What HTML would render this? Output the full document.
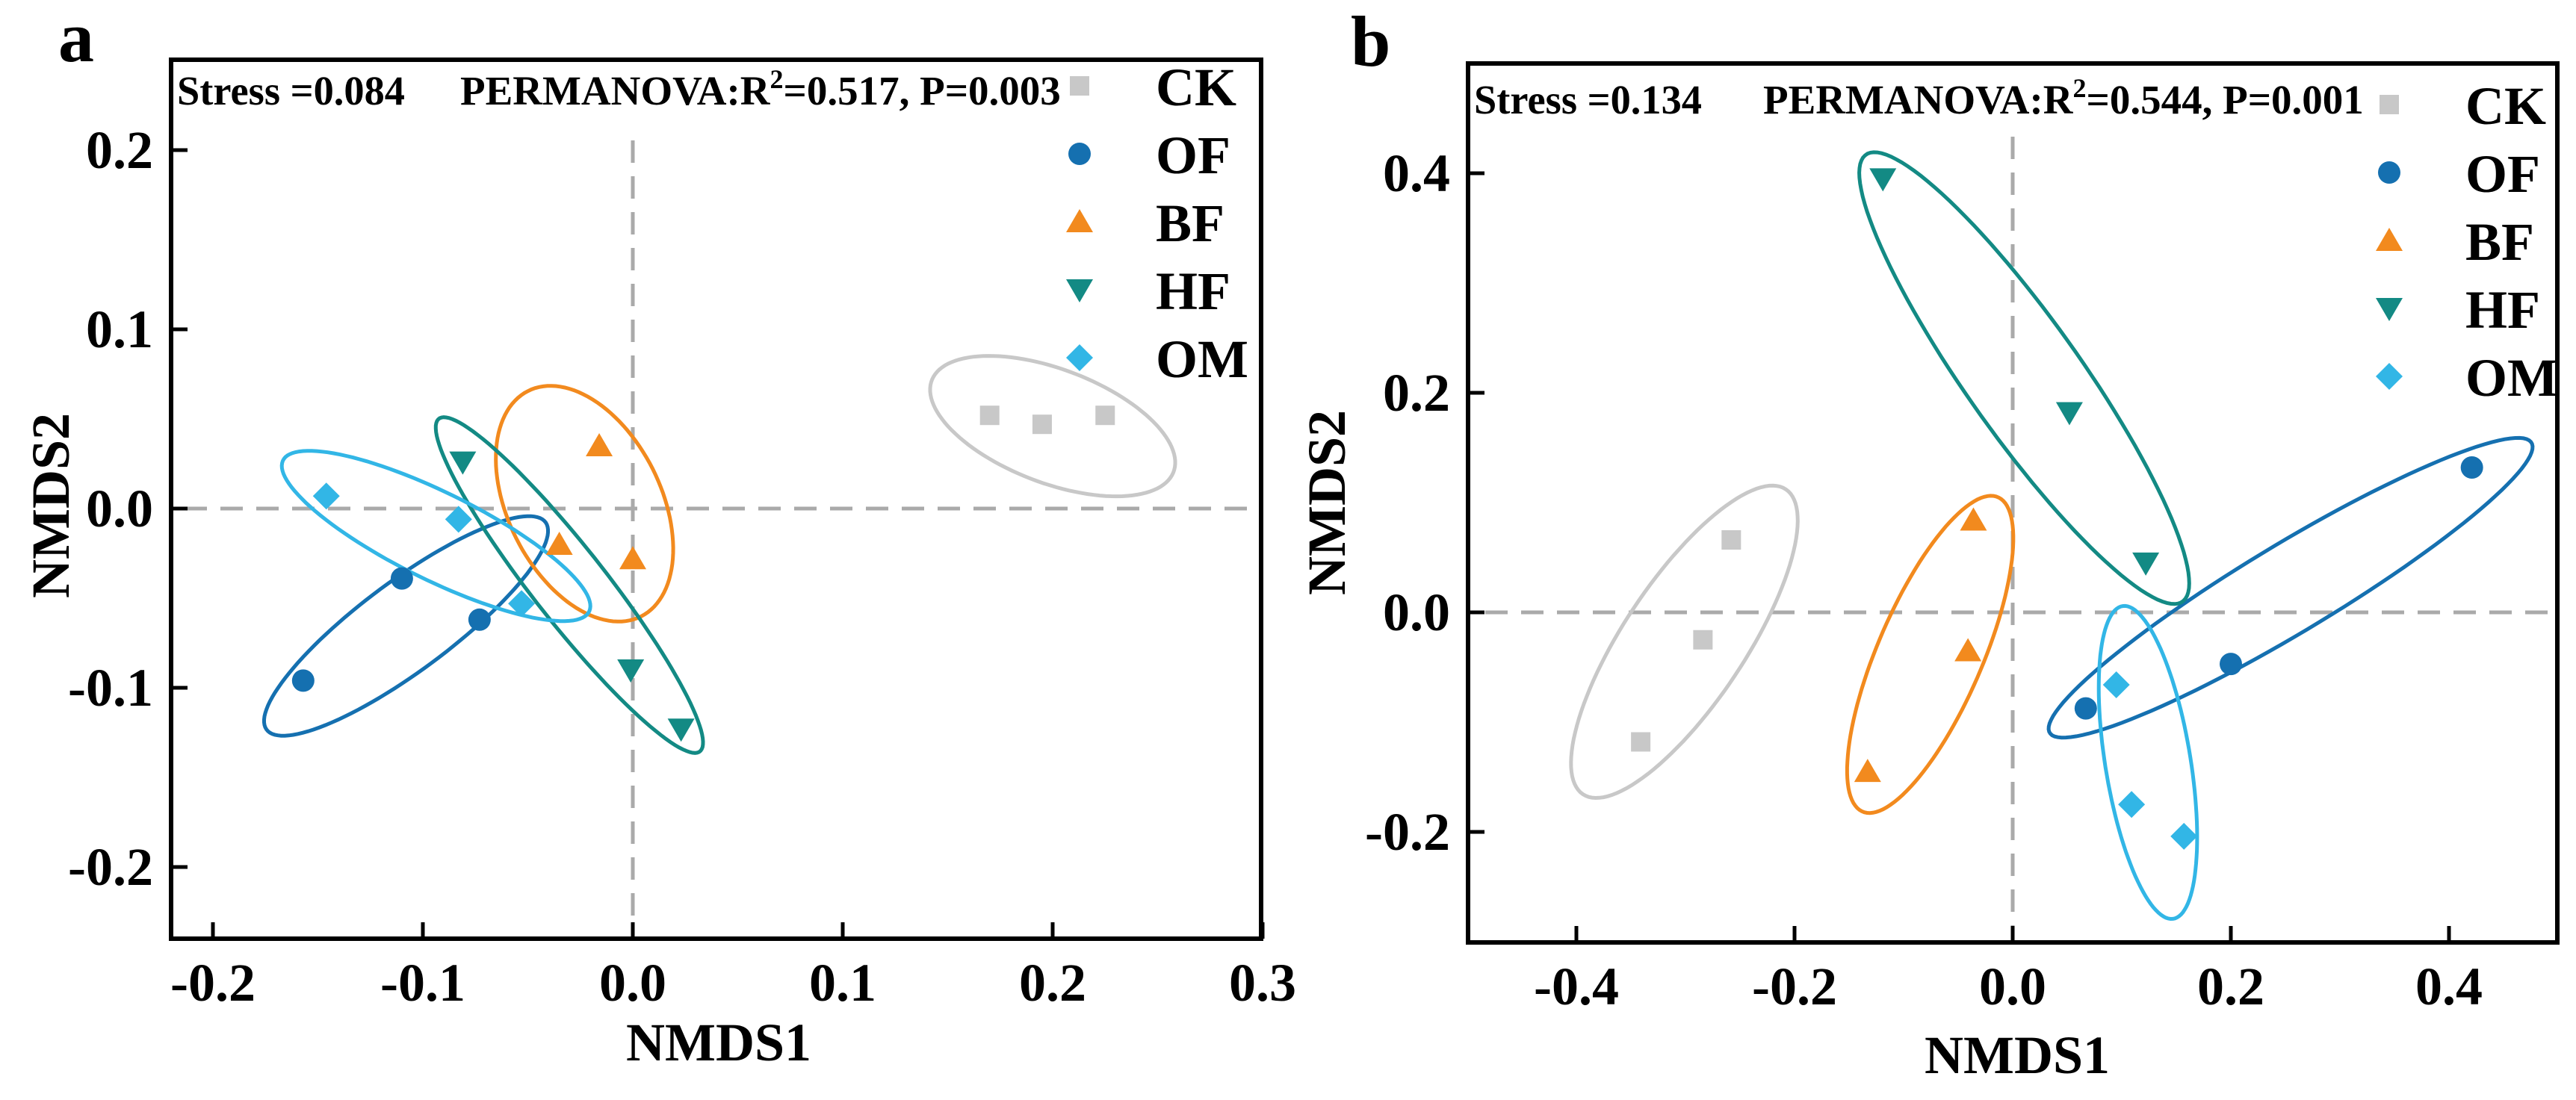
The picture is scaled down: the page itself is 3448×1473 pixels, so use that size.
<!DOCTYPE html>
<html><head><meta charset="utf-8"><style>
html,body{margin:0;padding:0;background:#fff;}
svg{display:block;font-family:"Liberation Serif",serif;font-weight:bold;}
</style></head><body>
<svg id="chart" width="3448" height="1473" viewBox="0 0 3448 1473" xmlns="http://www.w3.org/2000/svg"></svg>
<script>
// ---- data ----
const groups = ["CK","OF","BF","HF","OM"];
const colors = ["#c8c8c8","#1570b0","#f28a1e","#138a84","#32b6e6"];
const shapes = ["square","circle","triangle","tri-down","diamond"];
// Panel a points (NMDS1, NMDS2)
const aX = [[0.170,0.195,0.225],[-0.157,-0.110,-0.073],[-0.016,-0.035,0.000],[-0.081,-0.001,0.023],[-0.146,-0.083,-0.053]];
const aY = [[0.052,0.047,0.052],[-0.096,-0.039,-0.062],[0.035,-0.020,-0.028],[0.026,-0.090,-0.123],[0.007,-0.006,-0.053]];
// Panel a ellipses: center, conjugate half-axis vectors (data units)
const aEllC = [[0.200,0.046],[-0.108,-0.0655],[-0.023,0.0027],[-0.0302,-0.0427],[-0.0937,-0.0153]];
const aEllA = [[0.0568,-0.0275],[0.0658,0.0587],[0.0235,-0.0645],[0.0618,-0.0931],[0.0725,-0.0430]];
const aEllB = [[0.0135,0.0279],[-0.0157,0.0175],[0.0351,0.0128],[0.0153,0.0102],[0.0120,0.0202]];
// Panel b points
const bX = [[-0.258,-0.284,-0.341],[0.067,0.200,0.421],[-0.036,-0.041,-0.133],[-0.119,0.052,0.122],[0.095,0.109,0.157]];
const bY = [[0.066,-0.025,-0.118],[-0.0875,-0.047,0.132],[0.084,-0.035,-0.145],[0.395,0.182,0.045],[-0.066,-0.175,-0.204]];
const bEllC = [[-0.301,-0.0268],[0.2548,0.0224],[-0.0756,-0.0383],[0.0106,0.2134],[0.124,-0.1367]];
const bEllA = [[0.0905,0.1403],[0.2203,0.1329],[0.0605,0.1438],[0.1437,-0.2044],[0.0228,-0.1425]];
const bEllB = [[0.0511,-0.0236],[0.0264,-0.0312],[0.0463,-0.0139],[0.0472,0.0236],[0.0389,0.0045]];
const aXTicks = [-0.2,-0.1,0.0,0.1,0.2,0.3];
const aYTicks = [0.2,0.1,0.0,-0.1,-0.2];
const bXTicks = [-0.4,-0.2,0.0,0.2,0.4];
const bYTicks = [0.4,0.2,0.0,-0.2];
const aStats = ["Stress =0.084","0.517","0.003"];
const bStats = ["Stress =0.134","0.544","0.001"];

const NS="http://www.w3.org/2000/svg";
const svg=document.getElementById('chart');
function mk(tag,attrs,parent){const e=document.createElementNS(NS,tag);for(const k in attrs)e.setAttribute(k,attrs[k]);(parent||svg).appendChild(e);return e;}

function marker(g,shape,cx,cy,color){
  let e;
  if(shape==="square") e=mk('rect',{x:cx-13,y:cy-13,width:26,height:26,fill:color},g);
  else if(shape==="circle") e=mk('circle',{cx:cx,cy:cy,r:15,fill:color},g);
  else if(shape==="triangle") e=mk('polygon',{points:`${cx},${cy-17} ${cx-18},${cy+14} ${cx+18},${cy+14}`,fill:color},g);
  else if(shape==="tri-down") e=mk('polygon',{points:`${cx},${cy+17} ${cx-18},${cy-14} ${cx+18},${cy-14}`,fill:color},g);
  else e=mk('polygon',{points:`${cx},${cy-18} ${cx+18},${cy} ${cx},${cy+18} ${cx-18},${cy}`,fill:color},g);
  return e;
}

function panel(cfg){
  const g=mk('g',{});
  
  
  const sx=v=>cfg.x0+v*cfg.kx, sy=v=>cfg.y0-v*cfg.ky;
  // zero lines
  const zv=mk('line',{x1:sx(0),x2:sx(0),y1:cfg.zTop,y2:cfg.bottom-8,stroke:'#aaa','stroke-width':5,'stroke-dasharray':'30 18'},g);
  
  
  const zh=mk('line',{x1:cfg.zLeft,x2:cfg.right,y1:sy(0),y2:sy(0),stroke:'#aaa','stroke-width':5,'stroke-dasharray':'30 18'},g);
  
  
  // ellipses
  for(let i=0;i<groups.length;i++){
    const c=cfg.C[i],A=cfg.A[i],B=cfg.B[i];let pts=[];
    for(let k=0;k<=120;k++){const t=k/120*2*Math.PI;
      pts.push(sx(c[0]+Math.cos(t)*A[0]+Math.sin(t)*B[0]).toFixed(1)+','+sy(c[1]+Math.cos(t)*A[1]+Math.sin(t)*B[1]).toFixed(1));}
    const e=mk('polygon',{points:pts.join(' '),fill:'none',stroke:colors[i],'stroke-width':5},g);
    
    
  }
  // points
  for(let i=0;i<groups.length;i++){
    for(let j=0;j<cfg.X[i].length;j++){
      const m=marker(g,shapes[i],sx(cfg.X[i][j]),sy(cfg.Y[i][j]),colors[i]);
      
      
    }
  }
  // axes box
  const box=mk('rect',{x:cfg.left,y:cfg.top,width:cfg.right-cfg.left,height:cfg.bottom-cfg.top,fill:'none',stroke:'#000','stroke-width':6},g);
  
  
  // ticks
  cfg.xt.forEach(v=>{
    const t=mk('line',{x1:sx(v),x2:sx(v),y1:cfg.bottom,y2:cfg.bottom-22,stroke:'#000','stroke-width':5},g);
    
    
    const l=mk('text',{x:sx(v),y:cfg.bottom+83,'text-anchor':'middle','font-size':72},g);
    l.textContent=v.toFixed(1);
    
    
  });
  cfg.yt.forEach(v=>{
    const t=mk('line',{x1:cfg.left,x2:cfg.left+22,y1:sy(v),y2:sy(v),stroke:'#000','stroke-width':5},g);
    
    
    const l=mk('text',{x:cfg.left-24,y:sy(v)+24,'text-anchor':'end','font-size':72},g);
    l.textContent=v.toFixed(1);
    
    
  });
  // titles
  const xt=mk('text',{x:cfg.xTitleX,y:cfg.xTitleY,'text-anchor':'middle','font-size':72},g);
  xt.textContent='NMDS1';
  
  
  const yt=mk('text',{x:0,y:0,'text-anchor':'middle','font-size':72,transform:`translate(${cfg.yTitleX},${cfg.yTitleY}) rotate(-90)`},g);
  yt.textContent='NMDS2';
  
  
  const pl=mk('text',{x:cfg.labelX,y:cfg.labelY,'font-size':96},g);
  pl.textContent=cfg.id;
  
  
  // stats
  const st=mk('text',{x:cfg.left+8,y:cfg.statY,'font-size':55,textLength:cfg.stressW,lengthAdjust:'spacingAndGlyphs'},g);
  st.textContent=cfg.stats[0];
  
  
  const pm=mk('text',{x:cfg.permX,y:cfg.statY,'font-size':55},g);
  pm.innerHTML=`PERMANOVA:R<tspan dy="-22" font-size="36">2</tspan><tspan dy="22">=${cfg.stats[1]}, P=${cfg.stats[2]}</tspan>`;
  
  
  // legend
  for(let i=0;i<groups.length;i++){
    const lg=mk('g',{},g);
    
    
    const my=cfg.legY+i*cfg.legStep;
    marker(lg,shapes[i],cfg.legX,my,colors[i]);
    const tx=mk('text',{x:cfg.legTextX,y:my+26,'font-size':72},lg);
    tx.textContent=groups[i];
  }
}

panel({id:'a',x0:847,kx:2810,y0:681,ky:2400,left:229,right:1688,top:80,bottom:1257,
  zTop:188,zLeft:247,X:aX,Y:aY,C:aEllC,A:aEllA,B:aEllB,xt:aXTicks,yt:aYTicks,
  xTitleX:962,xTitleY:1420,yTitleX:92,yTitleY:677,labelX:78,labelY:82,
  stats:aStats,statY:140,stressW:305,permX:616,legX:1445,legY:115,legStep:91,legTextX:1547});
panel({id:'b',x0:2694,kx:1460,y0:820,ky:1470,left:1965,right:3423,top:85,bottom:1262,
  zTop:183,zLeft:1988,X:bX,Y:bY,C:bEllC,A:bEllA,B:bEllB,xt:bXTicks,yt:bYTicks,
  xTitleX:2700,xTitleY:1437,yTitleX:1800,yTitleY:673,labelX:1808,labelY:88,
  stats:bStats,statY:152,stressW:305,permX:2360,legX:3198,legY:140,legStep:91,legTextX:3300});
</script>
</body></html>
